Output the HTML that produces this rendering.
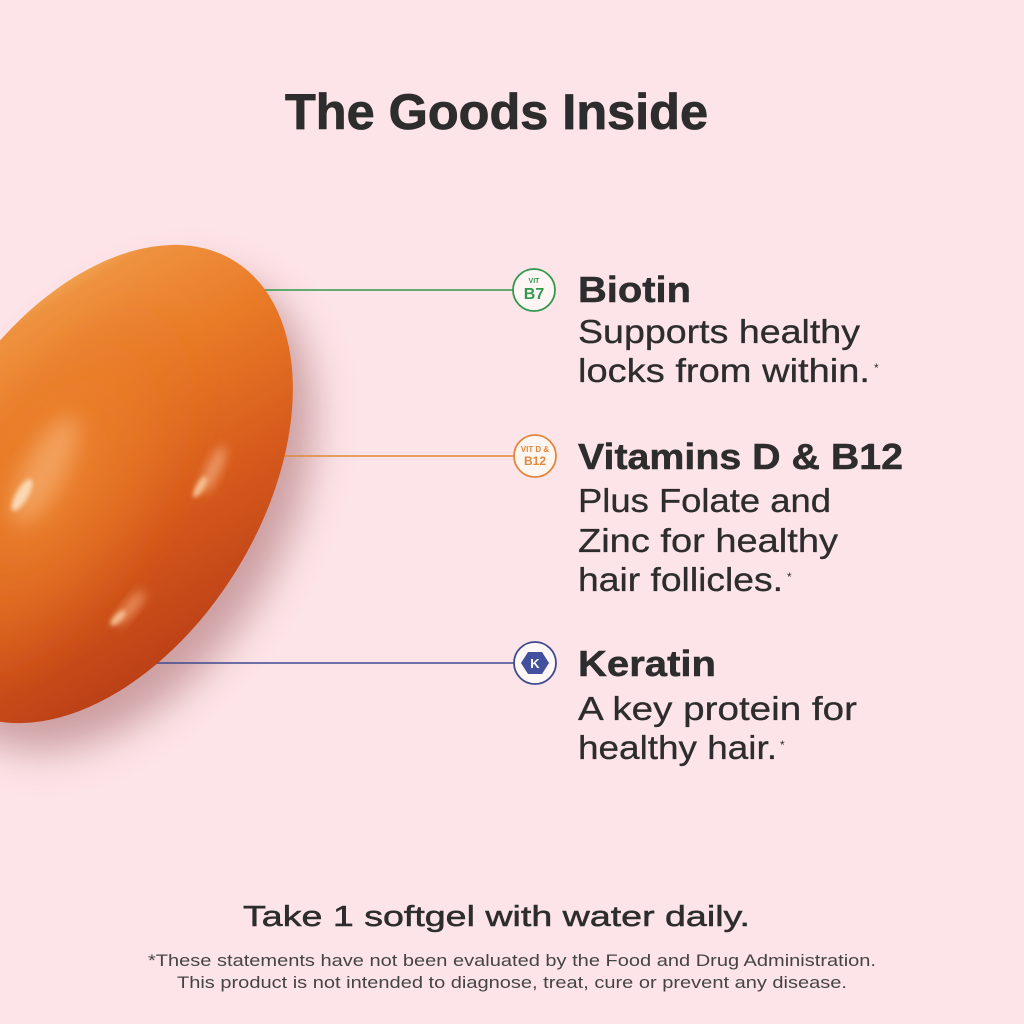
<!DOCTYPE html>
<html>
<head>
<meta charset="utf-8">
<style>
  html,body{margin:0;padding:0;background:#fde4e8;}
  svg{display:block;}
  text{font-family:"Liberation Sans", sans-serif;}
</style>
</head>
<body>
<svg width="1024" height="1024" viewBox="0 0 1024 1024" xmlns="http://www.w3.org/2000/svg">
  <defs>
    <filter id="sh" x="-50%" y="-50%" width="200%" height="200%"><feGaussianBlur stdDeviation="20"/></filter>
    <filter id="b10" x="-50%" y="-50%" width="200%" height="200%"><feGaussianBlur stdDeviation="10"/></filter>
    <filter id="b5" x="-50%" y="-50%" width="200%" height="200%"><feGaussianBlur stdDeviation="5"/></filter>
    <filter id="b2" x="-50%" y="-50%" width="200%" height="200%"><feGaussianBlur stdDeviation="2"/></filter>
    <linearGradient id="g1" x1="0.95" y1="0.15" x2="0.25" y2="1">
      <stop offset="0" stop-color="#f4b865"/>
      <stop offset="0.08" stop-color="#ee9240"/>
      <stop offset="0.33" stop-color="#e97a26"/>
      <stop offset="0.65" stop-color="#d65a1c"/>
      <stop offset="1" stop-color="#b93d16"/>
    </linearGradient>
    <radialGradient id="g2" cx="0.45" cy="0.35" r="0.55">
      <stop offset="0" stop-color="#ef8a34" stop-opacity="0.8"/>
      <stop offset="0.6" stop-color="#e87a26" stop-opacity="0.4"/>
      <stop offset="1" stop-color="#e06a20" stop-opacity="0"/>
    </radialGradient>
  </defs>

  <rect width="1024" height="1024" fill="#fde4e8"/>

  <ellipse cx="0" cy="0" rx="262" ry="164" transform="translate(118,512) rotate(-58.4)" fill="#9b5a5c" opacity="0.5" filter="url(#sh)"/>

  <line x1="250" y1="290" x2="513" y2="290" stroke="#2f9a4c" stroke-width="1.6"/>
  <line x1="270" y1="456" x2="514" y2="456" stroke="#e0873a" stroke-width="1.6"/>
  <line x1="150" y1="663" x2="514" y2="663" stroke="#3d4a8f" stroke-width="1.6"/>

  <ellipse cx="0" cy="0" rx="262" ry="164" transform="translate(97,484) rotate(-58.4)" fill="url(#g1)"/>
  <ellipse cx="0" cy="0" rx="215" ry="120" transform="translate(88,490) rotate(-58.4)" fill="url(#g2)" filter="url(#b10)"/>
  <ellipse cx="0" cy="0" rx="60" ry="20" transform="translate(45,470) rotate(-62)" fill="#f5ad70" opacity="0.7" filter="url(#b10)"/>
  <ellipse cx="0" cy="0" rx="18" ry="6" transform="translate(22,495) rotate(-60)" fill="#fde0c0" opacity="0.9" filter="url(#b2)"/>
  <ellipse cx="0" cy="0" rx="26" ry="7" transform="translate(213,470) rotate(-65)" fill="#f0a070" opacity="0.85" filter="url(#b5)"/>
  <ellipse cx="0" cy="0" rx="12" ry="4" transform="translate(200,487) rotate(-60)" fill="#f9c79a" opacity="0.9" filter="url(#b2)"/>
  <ellipse cx="0" cy="0" rx="22" ry="6" transform="translate(130,608) rotate(-50)" fill="#ee9a66" opacity="0.85" filter="url(#b5)"/>
  <ellipse cx="0" cy="0" rx="10" ry="4" transform="translate(118,618) rotate(-45)" fill="#f8c296" opacity="0.9" filter="url(#b2)"/>

  <text x="285" y="129" font-size="50" font-weight="bold" fill="#2d2d2d" stroke="#2d2d2d" stroke-width="0.8" textLength="423" lengthAdjust="spacingAndGlyphs">The Goods Inside</text>

  <circle cx="534" cy="290" r="21" fill="#fff6f5" stroke="#2f9a4c" stroke-width="1.8"/>
  <text x="534" y="283" font-size="7" font-weight="bold" fill="#2f9a4c" text-anchor="middle">VIT</text>
  <text x="534" y="299" font-size="16" font-weight="bold" fill="#2f9a4c" text-anchor="middle">B7</text>

  <circle cx="535" cy="456" r="21" fill="#fff6f2" stroke="#e0873a" stroke-width="1.8"/>
  <text x="535" y="452" font-size="8" font-weight="bold" fill="#e0873a" text-anchor="middle">VIT D &amp;</text>
  <text x="535" y="465" font-size="12" font-weight="bold" fill="#e0873a" text-anchor="middle">B12</text>

  <circle cx="535" cy="663" r="21" fill="#fff6f6" stroke="#3d4a8f" stroke-width="1.8"/>
  <polygon points="521,663 528,652 542,652 549,663 542,674 528,674" fill="#42509e"/>
  <text x="535" y="668" font-size="13" font-weight="bold" fill="#ffffff" text-anchor="middle">K</text>

  <text x="578" y="302" font-size="36" font-weight="bold" fill="#2d2d2d" stroke="#2d2d2d" stroke-width="0.5" textLength="113" lengthAdjust="spacingAndGlyphs">Biotin</text>
  <text x="578" y="343" font-size="33" fill="#2d2d2d" stroke="#2d2d2d" stroke-width="0.3" textLength="282" lengthAdjust="spacingAndGlyphs">Supports healthy</text>
  <text x="578" y="382" font-size="33" fill="#2d2d2d" stroke="#2d2d2d" stroke-width="0.3" textLength="292" lengthAdjust="spacingAndGlyphs">locks from within.</text>
  <text x="874" y="372" font-size="12" fill="#2d2d2d">*</text>

  <text x="578" y="469" font-size="36" font-weight="bold" fill="#2d2d2d" stroke="#2d2d2d" stroke-width="0.5" textLength="325" lengthAdjust="spacingAndGlyphs">Vitamins D &amp; B12</text>
  <text x="578" y="512" font-size="33" fill="#2d2d2d" stroke="#2d2d2d" stroke-width="0.3" textLength="253" lengthAdjust="spacingAndGlyphs">Plus Folate and</text>
  <text x="578" y="552" font-size="33" fill="#2d2d2d" stroke="#2d2d2d" stroke-width="0.3" textLength="260" lengthAdjust="spacingAndGlyphs">Zinc for healthy</text>
  <text x="578" y="591" font-size="33" fill="#2d2d2d" stroke="#2d2d2d" stroke-width="0.3" textLength="205" lengthAdjust="spacingAndGlyphs">hair follicles.</text>
  <text x="787" y="581" font-size="12" fill="#2d2d2d">*</text>

  <text x="578" y="676" font-size="36" font-weight="bold" fill="#2d2d2d" stroke="#2d2d2d" stroke-width="0.5" textLength="138" lengthAdjust="spacingAndGlyphs">Keratin</text>
  <text x="578" y="720" font-size="33" fill="#2d2d2d" stroke="#2d2d2d" stroke-width="0.3" textLength="279" lengthAdjust="spacingAndGlyphs">A key protein for</text>
  <text x="578" y="759" font-size="33" fill="#2d2d2d" stroke="#2d2d2d" stroke-width="0.3" textLength="199" lengthAdjust="spacingAndGlyphs">healthy hair.</text>
  <text x="780" y="749" font-size="12" fill="#2d2d2d">*</text>

  <text x="243" y="926" font-size="29" fill="#2d2d2d" stroke="#2d2d2d" stroke-width="0.5" textLength="507" lengthAdjust="spacingAndGlyphs">Take 1 softgel with water daily.</text>
  <text x="148" y="966" font-size="17" fill="#444444" textLength="728" lengthAdjust="spacingAndGlyphs">*These statements have not been evaluated by the Food and Drug Administration.</text>
  <text x="177" y="988" font-size="17" fill="#444444" textLength="670" lengthAdjust="spacingAndGlyphs">This product is not intended to diagnose, treat, cure or prevent any disease.</text>
</svg>
</body>
</html>
